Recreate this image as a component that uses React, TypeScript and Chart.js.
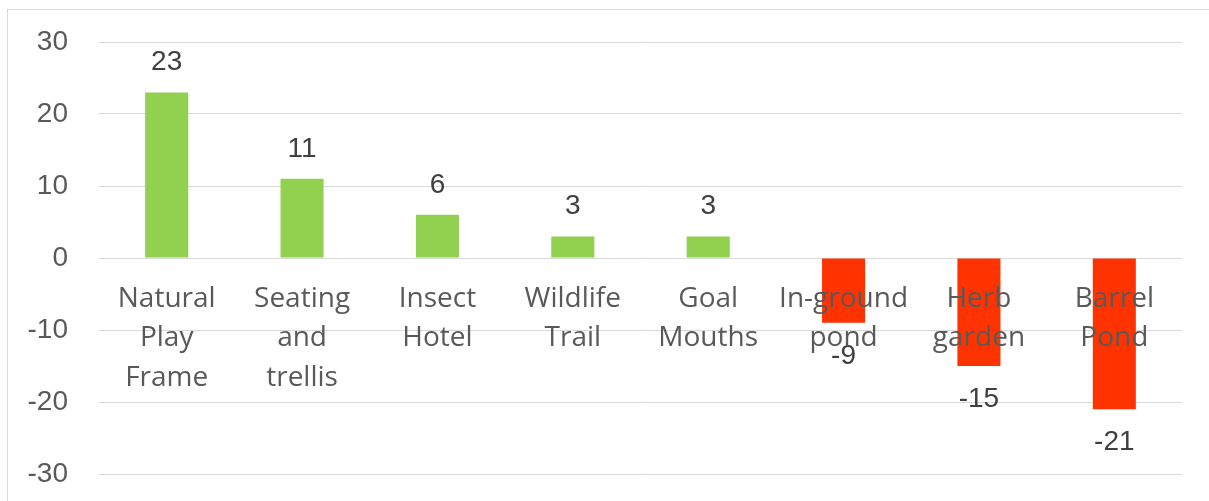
import React, { useEffect, useRef } from "react";
import { Chart, registerables } from "chart.js";

Chart.register(...registerables);

const categories: string[][] = [
  ["Natural", "Play", "Frame"],
  ["Seating", "and", "trellis"],
  ["Insect", "Hotel"],
  ["Wildlife", "Trail"],
  ["Goal", "Mouths"],
  ["In-ground", "pond"],
  ["Herb", "garden"],
  ["Barrel", "Pond"],
];
const values: number[] = [23, 11, 6, 3, 3, -9, -15, -21];
const yMin = -30;
const yMax = 30;
const yStep = 10;

const GREEN = "#92D050";
const RED = "#FF3300";

const dataLabelPlugin = {
  id: "dataLabels",
  afterDatasetsDraw(chart: any) {
    const ctx = chart.ctx;
    const meta = chart.getDatasetMeta(0);
    ctx.save();
    ctx.font = "28px 'Liberation Sans', Arial, sans-serif";
    ctx.fillStyle = "#404040";
    ctx.textAlign = "center";
    ctx.textBaseline = "middle";
    meta.data.forEach((el: any, i: number) => {
      const v = values[i];
      const y = v >= 0 ? el.y - 30 : el.y + 33;
      ctx.fillText(String(v), el.x, y);
    });
    ctx.restore();
  },
};

export default function App() {
  const ref = useRef<HTMLCanvasElement | null>(null);
  useEffect(() => {
    if (!ref.current) return;
    const chart = new Chart(ref.current, {
      type: "bar",
      data: {
        labels: categories,
        datasets: [
          {
            data: values,
            backgroundColor: values.map((v) => (v >= 0 ? GREEN : RED)),
            borderWidth: 0,
            barPercentage: 0.318,
            categoryPercentage: 1,
          },
        ],
      },
      options: {
        responsive: false,
        animation: false,
        layout: { padding: { top: 42, right: 27, bottom: 27, left: 0 } },
        plugins: { legend: { display: false }, tooltip: { enabled: false } },
        scales: {
          x: {
            position: { y: 0 } as any,
            grid: { display: false, drawTicks: false },
            border: { display: false },
            afterFit: (s: any) => {
              s.height = 0;
              s.paddingTop = 0;
              s.paddingBottom = 0;
              s.paddingLeft = 0;
              s.paddingRight = 0;
            },
            ticks: {
              z: 1,
              autoSkip: false,
              maxRotation: 0,
              minRotation: 0,
              padding: 21,
              color: "#595959",
              font: { family: "'Open Sans', sans-serif", size: 28, lineHeight: "39.5px" as any },
            },
          },
          y: {
            min: yMin,
            max: yMax,
            afterFit: (s: any) => {
              s.width = 99;
              s.paddingTop = 0;
              s.paddingBottom = 0;
            },
            grid: { color: "#D9D9D9", lineWidth: 1, drawTicks: false },
            border: { display: false },
            ticks: {
              stepSize: yStep,
              padding: 31,
              color: "#595959",
              font: { family: "'Liberation Sans', Arial, sans-serif", size: 28 },
            },
          },
        },
      },
      plugins: [dataLabelPlugin],
    });
    return () => chart.destroy();
  }, []);

  return (
    <div
      style={{
        position: "absolute",
        left: 0,
        top: 0,
        width: 1209,
        height: 501,
        overflow: "hidden",
        background: "#fff",
      }}
    >
      <div
        style={{
          position: "absolute",
          left: 7,
          top: 9,
          width: 1300,
          height: 600,
          border: "1px solid #D9D9D9",
        }}
      />
      <canvas
        ref={ref}
        width={1209}
        height={501}
        style={{ position: "absolute", left: 0, top: 0, display: "block" }}
      />
    </div>
  );
}
